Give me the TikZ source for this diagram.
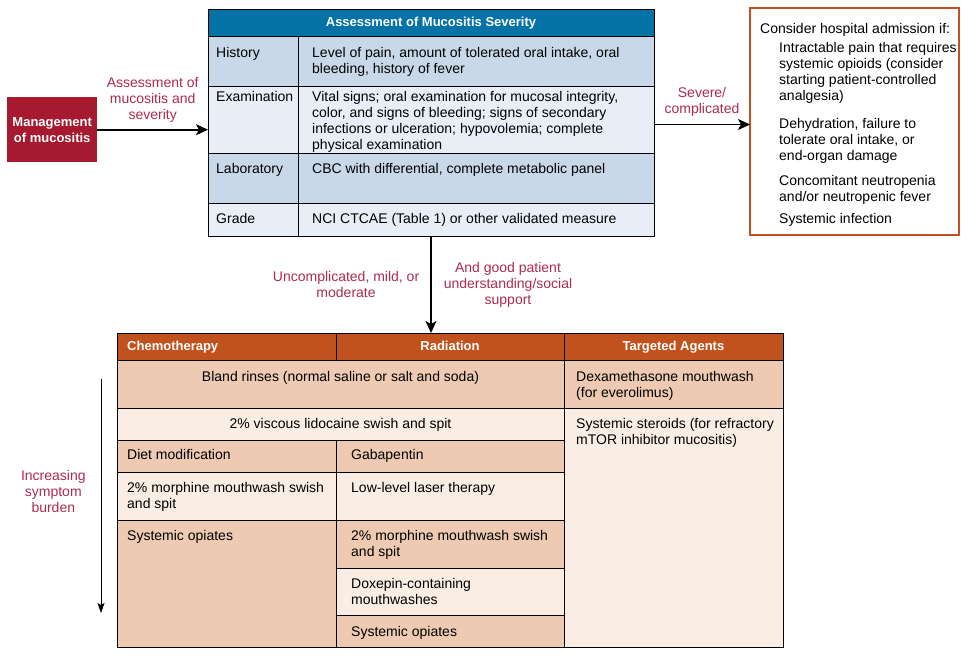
\documentclass[tikz,border=0pt]{standalone}
\usepackage{fontspec}
\setmainfont{Liberation Sans}
\usetikzlibrary{positioning,arrows.meta}
\definecolor{mucred}{HTML}{A6192E}
\definecolor{sevblue}{HTML}{0673A6}
\definecolor{rowdark}{HTML}{C9D8E8}
\definecolor{rowlight}{HTML}{E7EEF7}
\definecolor{rustbrown}{HTML}{C1521D}
\definecolor{peachdark}{HTML}{EDCAB1}
\definecolor{peachlight}{HTML}{FAEDE4}
\definecolor{lblred}{HTML}{AE2A4F}

\begin{document}
\begin{tikzpicture}[x=1pt,y=-1pt,
        cell/.style={draw,rectangle,anchor=north west,inner sep=0pt,outer sep=0pt,line width=0.9pt},
        txt/.style={anchor=north west,inner sep=0pt,align=left,font=\fontsize{14}{16}\selectfont},
        ctxt/.style={anchor=north,inner sep=0pt,align=center,font=\fontsize{14}{16}\selectfont},
        headtxt/.style={inner sep=0pt,text=white,text height=9.5pt,text depth=2.5pt,
            font=\fontsize{13}{16}\selectfont\bfseries},
        lbl/.style={inner sep=0pt,align=center,text=lblred,font=\fontsize{14}{16}\selectfont},
        arr/.style={line width=1.6pt,-{Stealth[length=12pt,width=11pt,inset=3pt]}}]
        \useasboundingbox (0,0) rectangle (968,657);

        % start box
        \node (mgmt) [fill=mucred, minimum width=90pt, minimum height=65pt, anchor=north west,
            inner sep=0pt, align=center, text=white,
            font=\fontsize{13}{16}\selectfont\bfseries] at (7,97) {Management\\of mucositis};

        % assessment table
        \node (sevhead) [cell, fill=sevblue, minimum width=446pt, minimum height=27pt] at (208,9) {};
        \node (histL) [cell, fill=rowdark, minimum width=90pt, minimum height=50pt] at (208,36) {};
        \node (histR) [cell, fill=rowdark, minimum width=356pt, minimum height=50pt] at (298,36) {};
        \node (examL) [cell, fill=rowlight, minimum width=90pt, minimum height=67pt] at (208,86) {};
        \node (examR) [cell, fill=rowlight, minimum width=356pt, minimum height=67pt] at (298,86) {};
        \node (labL) [cell, fill=rowdark, minimum width=90pt, minimum height=50pt] at (208,153) {};
        \node (labR) [cell, fill=rowdark, minimum width=356pt, minimum height=50pt] at (298,153) {};
        \node (gradeL) [cell, fill=rowlight, minimum width=90pt, minimum height=33pt] at (208,203) {};
        \node (gradeR) [cell, fill=rowlight, minimum width=356pt, minimum height=33pt] at (298,203) {};

        \node (sevhead-t) [headtxt] at (sevhead.center) {Assessment of Mucositis Severity};
        \node (histL-t) [txt] at ([xshift=8pt,yshift=-11pt]histL.north west) {History};
        \node (histR-t) [txt] at ([xshift=14pt,yshift=-11pt]histR.north west)
            {Level of pain, amount of tolerated oral intake, oral\\bleeding, history of fever};
        \node (examL-t) [txt] at ([xshift=8pt,yshift=-5pt]examL.north west) {Examination};
        \node (examR-t) [txt] at ([xshift=14pt,yshift=-5pt]examR.north west)
            {Vital signs; oral examination for mucosal integrity,\\color, and signs of bleeding; signs of secondary\\infections or ulceration; hypovolemia; complete\\physical examination};
        \node (labL-t) [txt] at ([xshift=8pt,yshift=-10pt]labL.north west) {Laboratory};
        \node (labR-t) [txt] at ([xshift=14pt,yshift=-10pt]labR.north west)
            {CBC with differential, complete metabolic panel};
        \node (gradeL-t) [txt] at ([xshift=8pt,yshift=-10pt]gradeL.north west) {Grade};
        \node (gradeR-t) [txt] at ([xshift=14pt,yshift=-10pt]gradeR.north west)
            {NCI CTCAE (Table 1) or other validated measure};

        % admission box
        \node (admit) [cell, draw=rustbrown, line width=2pt, minimum width=209pt, minimum height=227pt] at (750,8) {};
        \node (admit-t) [txt] at (760,23) {Consider hospital admission if:};
        \node (pain-t) [txt] at (779,42)
            {Intractable pain that requires\\systemic opioids (consider\\starting patient-controlled\\analgesia)};
        \node (dehyd-t) [txt] at (779,118) {Dehydration, failure to\\tolerate oral intake, or\\end-organ damage};
        \node (neutro-t) [txt] at (779,175) {Concomitant neutropenia\\and/or neutropenic fever};
        \node (infect-t) [txt] at (779,213) {Systemic infection};

        % treatment table
        \node (chemH) [cell, fill=rustbrown, minimum width=219pt, minimum height=27pt] at (117,333) {};
        \node (radH) [cell, fill=rustbrown, minimum width=228pt, minimum height=27pt] at (336,333) {};
        \node (tarH) [cell, fill=rustbrown, minimum width=219pt, minimum height=27pt] at (564,333) {};
        \node (bland) [cell, fill=peachdark, minimum width=447pt, minimum height=48pt] at (117,360) {};
        \node (lido) [cell, fill=peachlight, minimum width=447pt, minimum height=32pt] at (117,408) {};
        \node (dexa) [cell, fill=peachdark, minimum width=219pt, minimum height=48pt] at (564,360) {};
        \node (ster) [cell, fill=peachlight, minimum width=219pt, minimum height=239pt] at (564,408) {};
        \node (diet) [cell, fill=peachdark, minimum width=219pt, minimum height=32pt] at (117,440) {};
        \node (gaba) [cell, fill=peachdark, minimum width=228pt, minimum height=32pt] at (336,440) {};
        \node (morphC) [cell, fill=peachlight, minimum width=219pt, minimum height=48pt] at (117,472) {};
        \node (laser) [cell, fill=peachlight, minimum width=228pt, minimum height=48pt] at (336,472) {};
        \node (opiC) [cell, fill=peachdark, minimum width=219pt, minimum height=127pt] at (117,520) {};
        \node (morphR) [cell, fill=peachdark, minimum width=228pt, minimum height=48pt] at (336,520) {};
        \node (doxe) [cell, fill=peachlight, minimum width=228pt, minimum height=47pt] at (336,568) {};
        \node (opiR) [cell, fill=peachdark, minimum width=228pt, minimum height=32pt] at (336,615) {};

        \node (chemH-t) [headtxt, anchor=west] at ([xshift=10pt]chemH.west) {Chemotherapy};
        \node (radH-t) [headtxt] at (radH.center) {Radiation};
        \node (tarH-t) [headtxt] at (tarH.center) {Targeted Agents};
        \node (bland-t) [ctxt] at ([yshift=-11pt]bland.north) {Bland rinses (normal saline or salt and soda)};
        \node (lido-t) [ctxt] at ([yshift=-10pt]lido.north) {2\% viscous lidocaine swish and spit};
        \node (dexa-t) [txt] at ([xshift=12pt,yshift=-11pt]dexa.north west) {Dexamethasone mouthwash\\(for everolimus)};
        \node (ster-t) [txt] at ([xshift=12pt,yshift=-10pt]ster.north west) {Systemic steroids (for refractory\\mTOR inhibitor mucositis)};
        \node (diet-t) [txt] at ([xshift=10pt,yshift=-9pt]diet.north west) {Diet modification};
        \node (gaba-t) [txt] at ([xshift=15pt,yshift=-9pt]gaba.north west) {Gabapentin};
        \node (morphC-t) [txt] at ([xshift=10pt,yshift=-10pt]morphC.north west) {2\% morphine mouthwash swish\\and spit};
        \node (laser-t) [txt] at ([xshift=15pt,yshift=-10pt]laser.north west) {Low-level laser therapy};
        \node (opiC-t) [txt] at ([xshift=10pt,yshift=-10pt]opiC.north west) {Systemic opiates};
        \node (morphR-t) [txt] at ([xshift=15pt,yshift=-10pt]morphR.north west) {2\% morphine mouthwash swish\\and spit};
        \node (doxe-t) [txt] at ([xshift=15pt,yshift=-10pt]doxe.north west) {Doxepin-containing\\mouthwashes};
        \node (opiR-t) [txt] at ([xshift=15pt,yshift=-11pt]opiR.north west) {Systemic opiates};

        % connectors
        \draw[arr] (mgmt.east) -- (mgmt.east -| examL.west)
            node[lbl, midway, above=7pt] (assesslbl) {Assessment of\\mucositis and\\severity};
        \draw[arr] ([yshift=-5pt]examR.east) -- ([yshift=-5pt]examR.east -| admit.west)
            node[lbl, midway, above=7pt] (sevlbl) {Severe/\\complicated};
        \draw[arr] (sevhead.center |- gradeR.south) -- (sevhead.center |- radH.north)
            node[lbl, midway, left=11pt] (mildlbl) {Uncomplicated, mild, or\\moderate}
            node[lbl, midway, right=12pt] (supportlbl) {And good patient\\understanding/social\\support};
        \coordinate (burdentop) at (101,379);
        \coordinate (burdenbot) at (101,613);
        \draw[line width=0.8pt,-{Stealth[length=10pt,width=7pt,inset=2pt]}] (burdentop) -- (burdenbot)
            node[lbl, pos=0.48, left=15pt] (burdenlbl) {Increasing\\symptom\\burden};
    \end{tikzpicture}
\end{document}
